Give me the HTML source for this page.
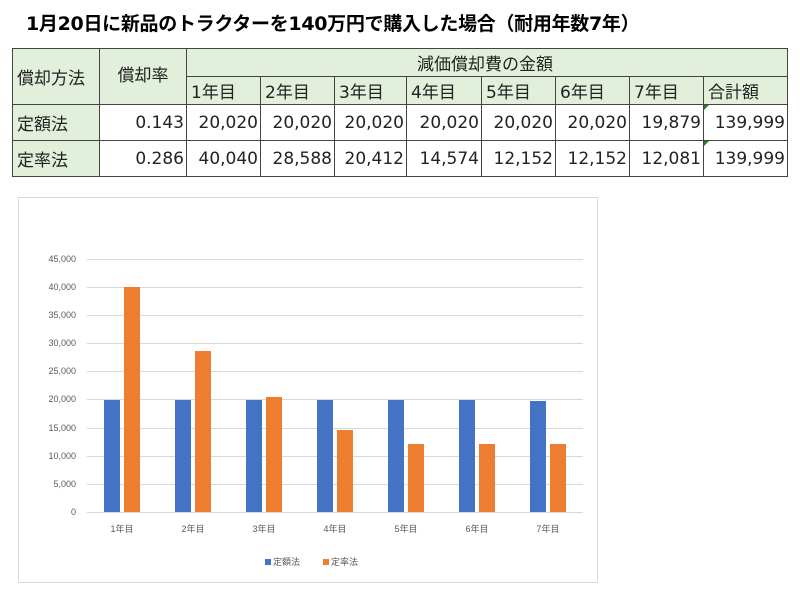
<!DOCTYPE html>
<html><head><meta charset="utf-8"><style>
body{margin:0;width:800px;height:600px;background:#fff;position:relative;overflow:hidden;font-family:"Liberation Sans","Noto Sans CJK JP",sans-serif;}
.t{position:absolute;left:26px;top:9px;font-size:19px;font-weight:bold;color:#000;white-space:nowrap;font-family:"DejaVu Sans","Noto Sans CJK JP",sans-serif;letter-spacing:-0.3px;}
.c{position:absolute;box-sizing:border-box;border:1px solid #444;font-size:17px;color:#222;display:flex;align-items:center;white-space:nowrap;font-family:"DejaVu Sans","Noto Sans CJK JP",sans-serif;}
.g{background:#e2efda;}
.r{justify-content:flex-end;padding-right:2px;}
.l{padding-left:4px;}
</style></head><body>
<div class="t">1月20日に新品のトラクターを140万円で購入した場合（耐用年数7年）</div>
<div class="c g l" style="left:12px;top:48px;width:88px;height:57px;">償却方法</div>
<div class="c g" style="left:99px;top:48px;width:88px;height:57px;justify-content:center;padding-bottom:6px">償却率</div>
<div class="c g" style="left:186px;top:48px;width:602px;height:29px;padding-left:230px">減価償却費の金額</div>
<div class="c g l" style="left:186px;top:76px;width:75px;height:29px">1年目</div>
<div class="c g l" style="left:260px;top:76px;width:75px;height:29px">2年目</div>
<div class="c g l" style="left:334px;top:76px;width:73px;height:29px">3年目</div>
<div class="c g l" style="left:406px;top:76px;width:76px;height:29px">4年目</div>
<div class="c g l" style="left:481px;top:76px;width:75px;height:29px">5年目</div>
<div class="c g l" style="left:555px;top:76px;width:75px;height:29px">6年目</div>
<div class="c g l" style="left:629px;top:76px;width:75px;height:29px">7年目</div>
<div class="c g l" style="left:703px;top:76px;width:85px;height:29px">合計額</div>
<div class="c g l" style="left:12px;top:104px;width:88px;height:37px">定額法</div>
<div class="c g l" style="left:12px;top:140px;width:88px;height:37px">定率法</div>
<div class="c r" style="left:99px;top:104px;width:88px;height:37px">0.143</div>
<div class="c r" style="left:99px;top:140px;width:88px;height:37px">0.286</div>
<div class="c r" style="left:186px;top:104px;width:75px;height:37px">20,020</div>
<div class="c r" style="left:260px;top:104px;width:75px;height:37px">20,020</div>
<div class="c r" style="left:334px;top:104px;width:73px;height:37px">20,020</div>
<div class="c r" style="left:406px;top:104px;width:76px;height:37px">20,020</div>
<div class="c r" style="left:481px;top:104px;width:75px;height:37px">20,020</div>
<div class="c r" style="left:555px;top:104px;width:75px;height:37px">20,020</div>
<div class="c r" style="left:629px;top:104px;width:75px;height:37px">19,879</div>
<div class="c r" style="left:703px;top:104px;width:85px;height:37px">139,999</div>
<div class="c r" style="left:186px;top:140px;width:75px;height:37px">40,040</div>
<div class="c r" style="left:260px;top:140px;width:75px;height:37px">28,588</div>
<div class="c r" style="left:334px;top:140px;width:73px;height:37px">20,412</div>
<div class="c r" style="left:406px;top:140px;width:76px;height:37px">14,574</div>
<div class="c r" style="left:481px;top:140px;width:75px;height:37px">12,152</div>
<div class="c r" style="left:555px;top:140px;width:75px;height:37px">12,152</div>
<div class="c r" style="left:629px;top:140px;width:75px;height:37px">12,081</div>
<div class="c r" style="left:703px;top:140px;width:85px;height:37px">139,999</div>
<svg style="position:absolute;left:0;top:0" width="800" height="600">
<polygon points="704,105 709,105 704,110" fill="#2a7a2a"/>
<polygon points="704,141 709,141 704,146" fill="#2a7a2a"/>
<rect x="18.5" y="197.5" width="579" height="385" fill="#fff" stroke="#d9d9d9"/>
<g stroke="#d9d9d9" stroke-width="1">
<line x1="87" x2="583" y1="259.5" y2="259.5"/><line x1="87" x2="583" y1="287.5" y2="287.5"/><line x1="87" x2="583" y1="315.5" y2="315.5"/><line x1="87" x2="583" y1="343.5" y2="343.5"/><line x1="87" x2="583" y1="371.5" y2="371.5"/><line x1="87" x2="583" y1="399.5" y2="399.5"/><line x1="87" x2="583" y1="428.5" y2="428.5"/><line x1="87" x2="583" y1="456.5" y2="456.5"/><line x1="87" x2="583" y1="484.5" y2="484.5"/><line x1="87" x2="583" y1="512.5" y2="512.5"/>
</g>
<g font-size="9" fill="#595959" text-anchor="end" font-family="Liberation Sans,sans-serif">
<text x="76" y="262">45,000</text><text x="76" y="290">40,000</text><text x="76" y="318">35,000</text><text x="76" y="346">30,000</text><text x="76" y="374">25,000</text><text x="76" y="402">20,000</text><text x="76" y="431">15,000</text><text x="76" y="459">10,000</text><text x="76" y="487">5,000</text><text x="76" y="515">0</text>
</g>
<g fill="#4472c4">
<rect x="104" y="400" width="16" height="112"/><rect x="175" y="400" width="16" height="112"/><rect x="246" y="400" width="16" height="112"/><rect x="317" y="400" width="16" height="112"/><rect x="388" y="400" width="16" height="112"/><rect x="459" y="400" width="16" height="112"/><rect x="530" y="401" width="16" height="111"/>
</g>
<g fill="#ed7d31">
<rect x="124" y="287" width="16" height="225"/><rect x="195" y="351" width="16" height="161"/><rect x="266" y="397" width="16" height="115"/><rect x="337" y="430" width="16" height="82"/><rect x="408" y="444" width="16" height="68"/><rect x="479" y="444" width="16" height="68"/><rect x="550" y="444" width="16" height="68"/>
</g>
<g font-size="9" fill="#595959" text-anchor="middle" font-family="Liberation Sans,Noto Sans CJK JP,sans-serif">
<text x="122" y="532">1年目</text><text x="193" y="532">2年目</text><text x="264" y="532">3年目</text><text x="335" y="532">4年目</text><text x="406" y="532">5年目</text><text x="477" y="532">6年目</text><text x="548" y="532">7年目</text>
</g>
<rect x="265" y="559" width="6" height="6" fill="#4472c4"/>
<rect x="323" y="559" width="6" height="6" fill="#ed7d31"/>
<g font-size="9" fill="#595959" font-family="Liberation Sans,Noto Sans CJK JP,sans-serif">
<text x="273" y="565">定額法</text><text x="331" y="565">定率法</text>
</g>
</svg>
</body></html>
